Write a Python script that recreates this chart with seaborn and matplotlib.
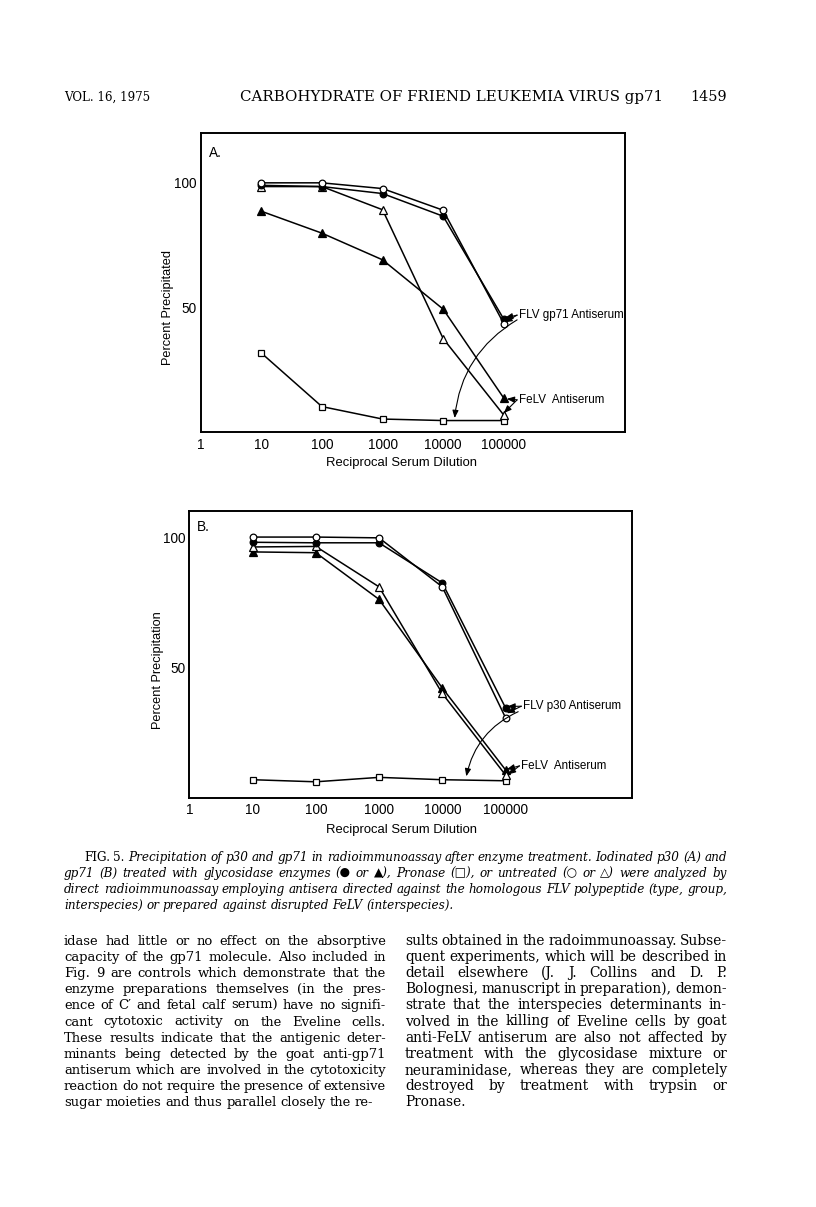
import matplotlib
matplotlib.use("Agg")
import matplotlib.pyplot as plt
import seaborn as sns
from matplotlib.transforms import IdentityTransform

# ------------------------------------------------
# Data
# ------------------------------------------------
dilution = [10, 100, 1000, 10000, 100000]
tick_vals = [1, 10, 100, 1000, 10000, 100000]
tick_labels = ["1", "10", "100", "1000", "10000", "100000"]

# panel A
a_untreated_flv = [100, 100, 97.7, 89.0, 43.5]      # open circles
a_enzyme_flv = [99.0, 98.5, 95.7, 86.6, 45.3]       # filled circles
a_untreated_felv = [98.5, 98.5, 89.2, 37.5, 6.8]    # open triangles
a_enzyme_felv = [88.6, 79.8, 69.1, 49.3, 13.6]      # filled triangles
a_pronase = [31.7, 10.2, 5.2, 4.6, 4.6]             # open squares

# panel B
b_untreated_flv = [100, 100, 99.7, 80.9, 30.7]
b_enzyme_flv = [98.0, 97.8, 97.8, 82.4, 34.5]
b_untreated_felv = [96.2, 96.4, 80.9, 40.0, 8.7]
b_enzyme_felv = [94.3, 94.0, 76.1, 42.1, 10.7]
b_pronase = [6.9, 6.1, 7.8, 6.9, 6.5]

header = ["VOL. 16, 1975", "CARBOHYDRATE OF FRIEND LEUKEMIA VIRUS gp71", "1459"]

caption_lines = [
    "FIG. 5. Precipitation of p30 and gp71 in radioimmunoassay after enzyme treatment. Iodinated p30 (A) and",
    "gp71 (B) treated with glycosidase enzymes (\u25cf or \u25b2), Pronase (\u25a1), or untreated (\u25cb or \u25b3) were analyzed by",
    "direct radioimmunoassay employing antisera directed against the homologous FLV polypeptide (type, group,",
    "interspecies) or prepared against disrupted FeLV (interspecies).",
]

left_col = [
    "idase had little or no effect on the absorptive",
    "capacity of the gp71 molecule. Also included in",
    "Fig. 9 are controls which demonstrate that the",
    "enzyme preparations themselves (in the pres-",
    "ence of C\u2032 and fetal calf serum) have no signifi-",
    "cant cytotoxic activity on the Eveline cells.",
    "These results indicate that the antigenic deter-",
    "minants being detected by the goat anti-gp71",
    "antiserum which are involved in the cytotoxicity",
    "reaction do not require the presence of extensive",
    "sugar moieties and thus parallel closely the re-",
]
right_col = [
    "sults obtained in the radoimmunoassay. Subse-",
    "quent experiments, which will be described in",
    "detail elsewhere (J. J. Collins and D. P.",
    "Bolognesi, manuscript in preparation), demon-",
    "strate that the interspecies determinants in-",
    "volved in the killing of Eveline cells by goat",
    "anti-FeLV antiserum are also not affected by",
    "treatment with the glycosidase mixture or",
    "neuraminidase, whereas they are completely",
    "destroyed by treatment with trypsin or",
    "Pronase.",
]

# ------------------------------------------------
# Figure setup
# ------------------------------------------------
sns.set_style("white")
plt.rcParams['font.family'] = ['Liberation Sans', 'DejaVu Sans']
for key in ["text.color", "axes.labelcolor", "xtick.color", "ytick.color", "axes.edgecolor"]:
    plt.rcParams[key] = "black"

W, H = 816, 1207
fig = plt.figure(figsize=(W / 100, H / 100), dpi=100)
renderer = fig.canvas.get_renderer()
SERIF = ['DejaVu Serif', 'DejaVu Sans']


def px_axes(x0, y0, x1, y1):
    return fig.add_axes([x0 / W, 1 - y1 / H, (x1 - x0) / W, (y1 - y0) / H])


def draw_panel(ax, series, ymax, letter, ylabel, ylab_pos, xlab_pos, let_pos):
    for vals, marker, filled in series:
        sns.lineplot(x=dilution, y=vals, ax=ax, color="black", marker=marker,
                     markersize=4.8 if marker != "^" else 5.3,
                     markerfacecolor="black" if filled else "white",
                     markeredgecolor="black", markeredgewidth=0.9,
                     linewidth=1.1)
    ax.set_xscale("log")
    ax.set_xlim(1, 1e7)
    ax.set_ylim(0, ymax)
    ax.set_xticks(tick_vals)
    ax.set_xticklabels(tick_labels)
    ax.minorticks_off()
    ax.set_yticks([50, 100])
    ax.set_yticklabels(["50", "100"])
    ax.tick_params(axis="x", direction="in", length=7.7, width=1.3, labelsize=9.8, pad=4)
    ax.tick_params(axis="y", direction="in", length=8, width=1.3, labelsize=9.8, pad=3)
    for s in ax.spines.values():
        s.set_linewidth(1.4)
    ax.set_ylabel(ylabel, fontsize=9.2)
    ax.yaxis.set_label_coords(*ylab_pos)
    ax.yaxis.label.set_va("center")
    ax.set_xlabel("Reciprocal Serum Dilution", fontsize=9.4)
    ax.xaxis.set_label_coords(*xlab_pos)
    ax.xaxis.label.set_va("center")
    ax.text(let_pos[0], let_pos[1], letter, transform=ax.transAxes, fontsize=9.8,
            ha="center", va="center")


def label_arrows(ax, text, tx, ty, heads, far=None):
    ax.text(10 ** tx, ty, text, ha="left", va="center", fontsize=8.4)
    props = dict(arrowstyle="-|>,head_length=0.45,head_width=0.18", color="black",
                 lw=0.8, shrinkA=0, shrinkB=0)
    for hx, hy in heads:
        ax.annotate("", xy=(10 ** hx, hy), xytext=(10 ** (tx - 0.03), ty),
                    arrowprops=props)
    if far is not None:
        (sx, sy), (hx, hy) = far
        p = dict(props, connectionstyle="arc3,rad=0.25")
        ax.annotate("", xy=(10 ** hx, hy), xytext=(10 ** sx, sy), arrowprops=p)


# ------------------------------------------------
# Panel A
# ------------------------------------------------
axA = px_axes(200.7, 133, 625, 432)
draw_panel(axA,
           [(a_pronase, "s", False), (a_enzyme_felv, "^", True),
            (a_untreated_felv, "^", False), (a_enzyme_flv, "o", True),
            (a_untreated_flv, "o", False)],
           120, "A.", "Percent Precipitated", (-0.077, 0.418), (0.474, -0.104), (0.034, 0.933))
label_arrows(axA, "FLV gp71 Antiserum", 5.25, 46.9, [(5.02, 45.8), (5.01, 44.0)],
             far=((5.22, 45.0), (4.19, 5.6)))
label_arrows(axA, "FeLV  Antiserum", 5.25, 12.9, [(5.05, 13.3), (5.0, 7.6)])

# ------------------------------------------------
# Panel B
# ------------------------------------------------
axB = px_axes(189.3, 511, 632, 797.7)
draw_panel(axB,
           [(b_pronase, "s", False), (b_enzyme_felv, "^", True),
            (b_untreated_felv, "^", False), (b_enzyme_flv, "o", True),
            (b_untreated_flv, "o", False)],
           110, "B.", "Percent Precipitation", (-0.0707, 0.445), (0.48, -0.113), (0.031, 0.944))
label_arrows(axB, "FLV p30 Antiserum", 5.28, 35.1, [(5.03, 35.0), (5.02, 32.4)],
             far=((5.2, 33.0), (4.38, 8.2)))
label_arrows(axB, "FeLV  Antiserum", 5.25, 12.2, [(5.02, 10.9), (5.04, 8.9)])


# ------------------------------------------------
# Page text (pixel coordinates, y from top), justified blocks
# ------------------------------------------------
def text_block(lines, starts, x1, ys, size, style="normal", upright_first=0):
    rows = []
    for k, line in enumerate(lines):
        ts = []
        for i, w in enumerate(line.split(" ")):
            st = "normal" if (k == 0 and i < upright_first) else style
            ts.append(fig.text(0, 0, w, transform=IdentityTransform(), fontsize=size,
                               ha="left", va="baseline", family=SERIF, style=st))
        rows.append(ts)
    # one common font size for the block, small enough for every line to fit
    min_gap = size * 100 / 72 * 0.25
    f = 1.0
    for k, ts in enumerate(rows):
        wsum = sum(t.get_window_extent(renderer).width for t in ts)
        avail = x1 - starts[k] - (len(ts) - 1) * min_gap
        f = min(f, avail / wsum)
    for k, ts in enumerate(rows):
        for t in ts:
            t.set_fontsize(size * f)
        widths = [t.get_window_extent(renderer).width for t in ts]
        last = k == len(rows) - 1
        if not last and len(ts) > 1:
            gap = (x1 - starts[k] - sum(widths)) / (len(ts) - 1)
        else:
            gap = size * f * 100 / 72 * 0.3
        x = starts[k]
        for t, w in zip(ts, widths):
            t.set_position((x, H - ys[k]))
            x += w + gap


fig.text(64 / W, 1 - 101 / H, header[0], family=SERIF, fontsize=8.6, va="baseline", ha="left")
fig.text(452 / W, 1 - 101 / H, header[1], family=SERIF, fontsize=10.8, va="baseline", ha="center")
fig.text(727 / W, 1 - 101 / H, header[2], family=SERIF, fontsize=10.4, va="baseline", ha="right")

text_block(caption_lines, [84, 64, 64, 64], 727, [861, 877, 893, 909], 9.8,
           style="italic", upright_first=2)

body_y = [945 + i * 16.1 for i in range(len(left_col))]
text_block(left_col, [64] * len(left_col), 386, body_y, 10.4)
text_block(right_col, [405] * len(right_col), 727, body_y, 10.4)

fig.savefig("out.png", dpi=100)
plt.close(fig)
